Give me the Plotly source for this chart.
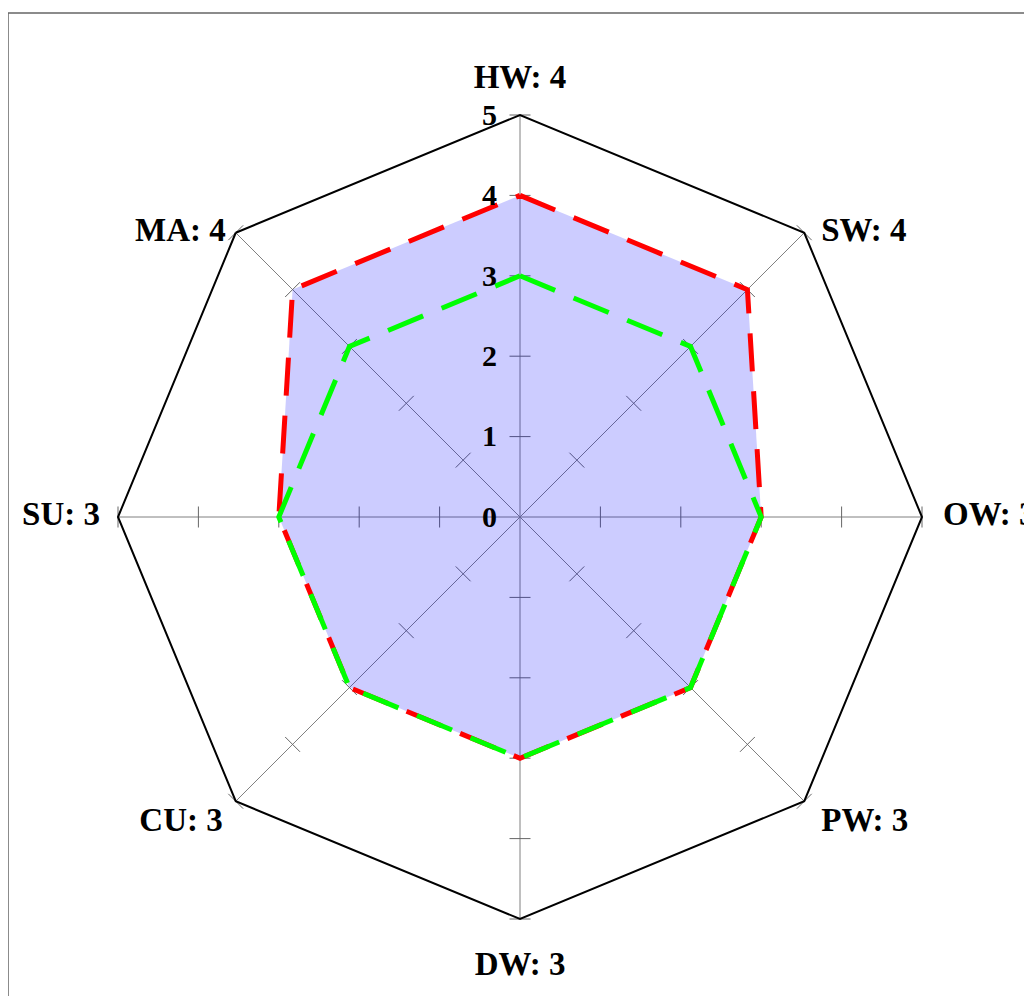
import plotly.graph_objects as go

categories = ["HW", "SW", "OW", "PW", "DW", "CU", "SU", "MA"]
series_red = [4, 4, 3, 3, 3, 3, 3, 4]
series_green = [3, 3, 3, 3, 3, 3, 3, 3]
radial_ticks = [0, 1, 2, 3, 4, 5]

labels = [f"{c}: {v}" for c, v in zip(categories, series_red)]

W, H = 1032, 996
# page body adds an 8px offset
cx, cy, R = 512, 509, 402

# label placement styling (text anchor side and gap from the outer vertex)
label_pos = ["top center", "middle right", "middle right", "middle right",
             "bottom center", "middle left", "middle left", "middle left"]
label_gap = [19, 17, 21, 17, 31, 13, 18, 10]
label_drop = [False, False, False, True, False, True, False, False]

fig = go.Figure()

# tick marks crossing every spoke
tick_theta, tick_r, tick_ang = [], [], []
for i, lab in enumerate(labels):
    for v in radial_ticks[1:]:
        tick_theta.append(lab)
        tick_r.append(v)
        tick_ang.append(i * 360 / len(labels))
fig.add_trace(go.Scatterpolar(
    r=tick_r, theta=tick_theta, mode="markers",
    marker=dict(symbol="line-ew", size=15, angle=tick_ang,
                line=dict(color="#666666", width=1)),
    hoverinfo="skip", showlegend=False))

fig.add_trace(go.Scatterpolar(
    r=series_red + series_red[:1], theta=labels + labels[:1],
    mode="lines", fill="toself", fillcolor="rgba(0,0,255,0.2)",
    line=dict(color="#ff0000", width=5, dash="38px,20px"),
    showlegend=False))

fig.add_trace(go.Scatterpolar(
    r=series_green + series_green[:1], theta=labels + labels[:1],
    mode="lines",
    line=dict(color="#00ff00", width=5, dash="38px,20px"),
    showlegend=False))

# category labels at the outer ring
fig.add_trace(go.Scatterpolar(
    r=[radial_ticks[-1]] * len(labels), theta=labels,
    mode="markers+text",
    text=[("<br>" if d else "") + lab for lab, d in zip(labels, label_drop)],
    textposition=label_pos,
    textfont=dict(family="Liberation Serif", size=33, color="black", weight="bold"),
    marker=dict(size=[2 * (g - 1) * 0.8 for g in label_gap],
                color="rgba(0,0,0,0)", line=dict(width=0)),
    cliponaxis=False, hoverinfo="skip", showlegend=False))

fig.update_layout(
    width=W, height=H,
    margin=dict(l=0, r=0, t=0, b=0),
    paper_bgcolor="white",
    showlegend=False,
    polar=dict(
        domain=dict(x=[(cx - R) / W, (cx + R) / W],
                    y=[1 - (cy + R) / H, 1 - (cy - R) / H]),
        bgcolor="white",
        gridshape="linear",
        angularaxis=dict(
            type="category", categoryarray=labels,
            direction="clockwise", rotation=90,
            showline=True, linecolor="black", linewidth=2,
            showgrid=True, gridcolor="#808080", gridwidth=1,
            ticks="", showticklabels=False,
        ),
        radialaxis=dict(
            range=[0, 5], angle=90, tickangle=90, side="counterclockwise",
            tickvals=radial_ticks, ticktext=[str(v) for v in radial_ticks],
            showgrid=False, showline=False,
            ticks="outside", ticklen=12, tickcolor="rgba(0,0,0,0)",
            tickfont=dict(family="Liberation Serif", size=30, color="black", weight="bold"),
        ),
    ),
    shapes=[dict(type="rect", xref="paper", yref="paper",
                 x0=0, x1=1.2, y0=-0.2, y1=1 - 5 / H,
                 line=dict(color="#666666", width=1.5))],
)

fig.write_html("out.html")
